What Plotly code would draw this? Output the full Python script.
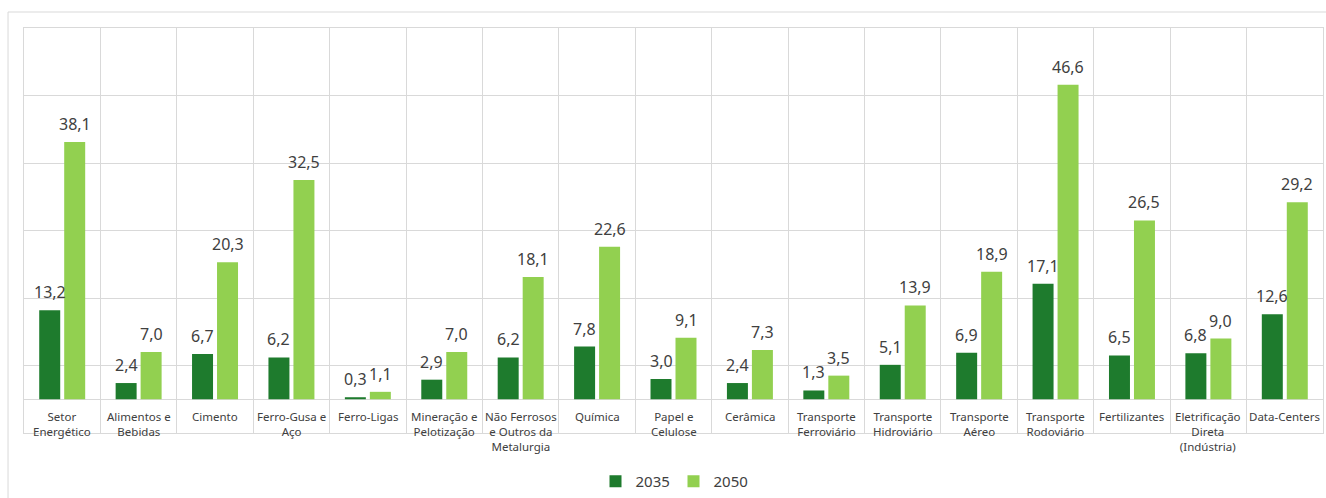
import plotly.graph_objects as go

categories = [
    "Setor<br>Energético",
    "Alimentos e<br>Bebidas",
    "Cimento",
    "Ferro-Gusa e<br>Aço",
    "Ferro-Ligas",
    "Mineração e<br>Pelotização",
    "Não Ferrosos<br>e Outros da<br>Metalurgia",
    "Química",
    "Papel e<br>Celulose",
    "Cerâmica",
    "Transporte<br>Ferroviário",
    "Transporte<br>Hidroviário",
    "Transporte<br>Aéreo",
    "Transporte<br>Rodoviário",
    "Fertilizantes",
    "Eletrificação<br>Direta<br>(Indústria)",
    "Data-Centers",
]
values_2035 = [13.2, 2.4, 6.7, 6.2, 0.3, 2.9, 6.2, 7.8, 3.0, 2.4, 1.3, 5.1, 6.9, 17.1, 6.5, 6.8, 12.6]
values_2050 = [38.1, 7.0, 20.3, 32.5, 1.1, 7.0, 18.1, 22.6, 9.1, 7.3, 3.5, 13.9, 18.9, 46.6, 26.5, 9.0, 29.2]

FONT = "Noto Sans"
TEXT_COLOR = "#404040"
GRID = "#D9D9D9"
SERIES = [
    ("2035", values_2035, "#1E7B2D", -12.5),
    ("2050", values_2050, "#92D050", 12.5),
]


def fmt(v):
    return f"{v:.1f}".replace(".", ",")


fig = go.Figure()
for name, vals, color, _ in SERIES:
    fig.add_trace(go.Bar(
        x=categories, y=vals, name=name,
        marker=dict(color=color, line=dict(width=0)),
        cliponaxis=False,
    ))

# value labels above each bar (fixed size, offset to each bar of the group)
for name, vals, color, dx in SERIES:
    for c, v in zip(categories, vals):
        fig.add_annotation(
            x=c, y=v, xref="x", yref="y", text=fmt(v), showarrow=False,
            yanchor="bottom", yshift=5, xshift=dx,
            font=dict(family=FONT, size=16, color=TEXT_COLOR),
        )

# category labels sit just below the zero line
for c in categories:
    fig.add_annotation(
        x=c, y=0, xref="x", yref="y", text=c, showarrow=False,
        yanchor="top", yshift=-8,
        font=dict(family=FONT, size=11.5, color=TEXT_COLOR),
    )

# outer chart frame
fig.add_shape(
    type="rect", xref="paper", yref="paper",
    x0=-0.0123, x1=1.05, y0=-0.5, y1=1.0395,
    line=dict(color=GRID, width=1), layer="below",
)

fig.update_layout(
    width=1326, height=498,
    margin=dict(l=24, r=3, t=28, b=65, autoexpand=False),
    paper_bgcolor="white", plot_bgcolor="white",
    barmode="group", bargap=0.346, bargroupgap=0.16,
    font=dict(family=FONT, color=TEXT_COLOR),
    showlegend=True,
    legend=dict(
        orientation="h", x=0.5, xanchor="center", y=-0.12, yanchor="middle",
        font=dict(family=FONT, size=15, color=TEXT_COLOR),
        itemwidth=30, traceorder="normal",
        entrywidth=33, entrywidthmode="pixels",
    ),
)
fig.update_xaxes(
    type="category", tickson="boundaries", showgrid=True, gridcolor=GRID, gridwidth=1,
    showticklabels=False, ticks="", showline=True, mirror=True, linecolor=GRID,
    fixedrange=True,
)
fig.update_yaxes(
    range=[-5, 55], tick0=-5, dtick=10, showgrid=True, gridcolor=GRID, gridwidth=1,
    showticklabels=False, ticks="", zeroline=True, zerolinecolor=GRID, zerolinewidth=1,
    showline=True, mirror=True, linecolor=GRID, fixedrange=True,
)

fig.write_html("out.html")
